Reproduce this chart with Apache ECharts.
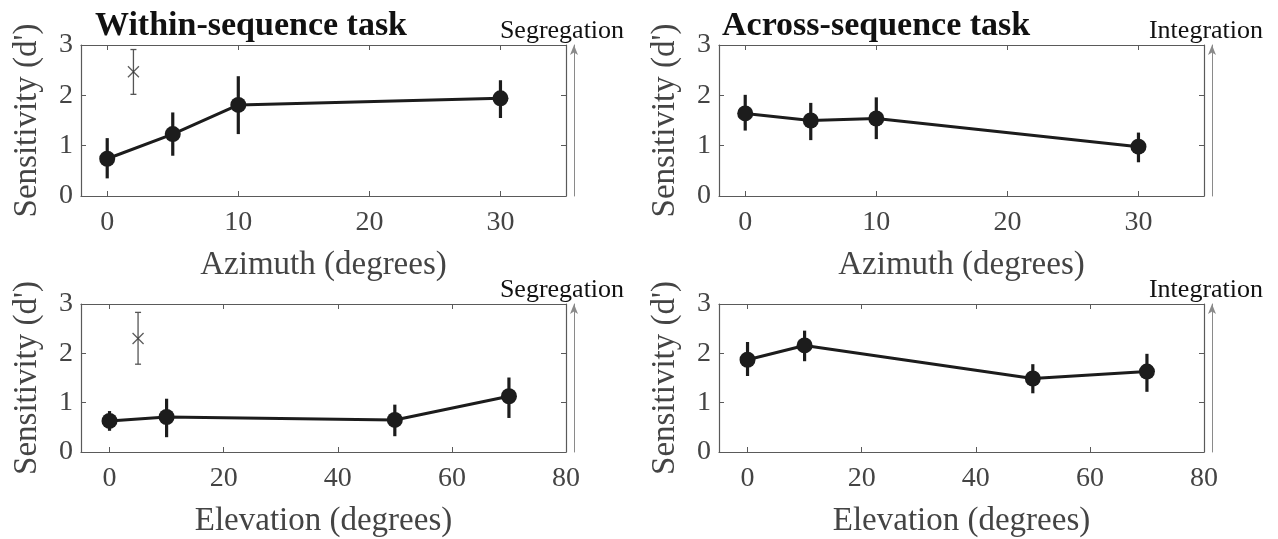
<!DOCTYPE html>
<html>
<head>
<meta charset="utf-8">
<script src="https://cdn.jsdelivr.net/npm/echarts@6/dist/echarts.min.js"></script>
<style>
  html, body { margin: 0; padding: 0; background: #fff; }
  #main { width: 1278px; height: 539px; }
</style>
</head>
<body>
<div id="main"></div>
<script>
// --- data ---
var azimuthX = [0, 5, 10, 30];
var elevationX = [0, 10, 50, 70];

// within-sequence, azimuth
var withinAzMean = [0.74, 1.23, 1.81, 1.94];
var withinAzLo   = [0.35, 0.80, 1.23, 1.55];
var withinAzHi   = [1.15, 1.66, 2.38, 2.30];
// reference point (x) with error bar: x, mean, lo, hi
var withinAzRef  = [2, 2.47, 2.02, 2.91];

// across-sequence, azimuth
var acrossAzMean = [1.64, 1.50, 1.54, 0.98];
var acrossAzLo   = [1.30, 1.11, 1.13, 0.67];
var acrossAzHi   = [2.01, 1.85, 1.96, 1.26];

// within-sequence, elevation
var withinElMean = [0.63, 0.71, 0.65, 1.13];
var withinElLo   = [0.43, 0.30, 0.32, 0.69];
var withinElHi   = [0.83, 1.08, 0.96, 1.51];
var withinElRef  = [5, 2.30, 1.78, 2.83];

// across-sequence, elevation
var acrossElMean = [1.87, 2.16, 1.49, 1.63];
var acrossElLo   = [1.54, 1.84, 1.19, 1.22];
var acrossElHi   = [2.23, 2.46, 1.78, 1.99];

var azTicks = [0, 10, 20, 30];
var elTicks = [0, 20, 40, 60, 80];

var FONT = 'Liberation Serif';
var AXIS_COLOR = '#5a5a5a';
var LABEL_COLOR = '#444';
var INK = '#1c1c1c';

var chart = echarts.init(document.getElementById('main'));

// grid boxes: [left, top]
var gridPos = [[81, 45], [719, 45], [81, 304], [719, 304]];
var grids = gridPos.map(function (p) {
  return { left: p[0], top: p[1], width: 485, height: 151, containLabel: false };
});

function pairUp(xs, ys) {
  return xs.map(function (x, i) { return [x, ys[i]]; });
}
function errData(xs, lo, hi) {
  return xs.map(function (x, i) { return [x, lo[i], hi[i]]; });
}

// error bar drawn through the axes' own scales
function errRender(width, cap, color) {
  return function (params, api) {
    var x = api.value(0);
    var p1 = api.coord([x, api.value(1)]);
    var p2 = api.coord([x, api.value(2)]);
    var children = [{
      type: 'line',
      shape: { x1: p1[0], y1: p1[1], x2: p2[0], y2: p2[1] },
      style: { stroke: color, lineWidth: width }
    }];
    if (cap > 0) {
      children.push({
        type: 'line',
        shape: { x1: p1[0] - cap, y1: p1[1], x2: p1[0] + cap, y2: p1[1] },
        style: { stroke: color, lineWidth: width }
      });
      children.push({
        type: 'line',
        shape: { x1: p2[0] - cap, y1: p2[1], x2: p2[0] + cap, y2: p2[1] },
        style: { stroke: color, lineWidth: width }
      });
    }
    return { type: 'group', children: children };
  };
}

var xAxes = [];
var yAxes = [];
var panels = [
  { xmin: -2, xmax: 35, ticks: azTicks, xname: 'Azimuth (degrees)', arrow: 'Segregation', shift: 24 },
  { xmin: -2, xmax: 35, ticks: azTicks, xname: 'Azimuth (degrees)', arrow: 'Integration', shift: 12 },
  { xmin: -5, xmax: 80, ticks: elTicks, xname: 'Elevation (degrees)', arrow: 'Segregation', shift: 24 },
  { xmin: -5, xmax: 80, ticks: elTicks, xname: 'Elevation (degrees)', arrow: 'Integration', shift: 12 }
];

panels.forEach(function (p, i) {
  // bottom x axis with labels
  xAxes.push({
    type: 'value', gridIndex: i, position: 'bottom', min: p.xmin, max: p.xmax,
    name: p.xname, nameLocation: 'middle', nameGap: 53,
    nameTextStyle: { fontFamily: FONT, fontSize: 33, color: LABEL_COLOR },
    axisLine: { show: true, onZero: false, lineStyle: { color: AXIS_COLOR, width: 1.2 } },
    axisTick: { show: true, inside: true, length: 5, customValues: p.ticks, lineStyle: { color: AXIS_COLOR } },
    axisLabel: { show: true, customValues: p.ticks, margin: 13, fontFamily: FONT, fontSize: 28, color: LABEL_COLOR },
    splitLine: { show: false }
  });
  // top x axis, box edge only
  xAxes.push({
    type: 'value', gridIndex: i, position: 'top', min: p.xmin, max: p.xmax,
    axisLine: { show: true, onZero: false, lineStyle: { color: AXIS_COLOR, width: 1.2 } },
    axisTick: { show: true, inside: true, length: 5, customValues: p.ticks, lineStyle: { color: AXIS_COLOR } },
    axisLabel: { show: false },
    splitLine: { show: false }
  });
  // left y axis with labels
  yAxes.push({
    type: 'value', gridIndex: i, position: 'left', min: 0, max: 3, interval: 1,
    name: "Sensitivity (d')", nameLocation: 'middle', nameGap: 37,
    nameTextStyle: { fontFamily: FONT, fontSize: 33, color: LABEL_COLOR },
    axisLine: { show: true, onZero: false, lineStyle: { color: AXIS_COLOR, width: 1.2 } },
    axisTick: { show: true, inside: true, length: 5, lineStyle: { color: AXIS_COLOR } },
    axisLabel: { show: true, margin: 8, fontFamily: FONT, fontSize: 28, color: LABEL_COLOR },
    splitLine: { show: false }
  });
  // right y axis, box edge only
  yAxes.push({
    type: 'value', gridIndex: i, position: 'right', min: 0, max: 3, interval: 1,
    axisLine: { show: true, onZero: false, lineStyle: { color: AXIS_COLOR, width: 1.2 } },
    axisTick: { show: true, inside: true, length: 5, lineStyle: { color: AXIS_COLOR } },
    axisLabel: { show: false },
    splitLine: { show: false }
  });
  // arrow beside the box
  yAxes.push({
    type: 'value', gridIndex: i, position: 'right', offset: 8, min: 0, max: 3,
    name: p.arrow, nameLocation: 'end', nameGap: 1,
    nameTextStyle: { fontFamily: FONT, fontSize: 26, color: '#111', padding: [0, p.shift, 0, 0] },
    axisLine: {
      show: true, onZero: false, symbol: ['none', 'arrow'], symbolSize: [6, 10],
      lineStyle: { color: '#8a8a8a', width: 1 }
    },
    axisTick: { show: false },
    axisLabel: { show: false },
    splitLine: { show: false }
  });
});

function lineSeries(i, xs, ys) {
  return {
    type: 'line', xAxisIndex: 2 * i, yAxisIndex: 3 * i,
    data: pairUp(xs, ys), symbol: 'circle', symbolSize: 16,
    lineStyle: { color: INK, width: 3 }, itemStyle: { color: INK },
    z: 3, silent: true, animation: false
  };
}
function errSeries(i, xs, lo, hi) {
  return {
    type: 'custom', xAxisIndex: 2 * i, yAxisIndex: 3 * i,
    data: errData(xs, lo, hi), encode: { x: 0, y: [1, 2] },
    renderItem: errRender(3.2, 0, INK), z: 2, silent: true, animation: false
  };
}
function refSeries(i, ref) {
  return [{
    type: 'custom', xAxisIndex: 2 * i, yAxisIndex: 3 * i,
    data: [[ref[0], ref[2], ref[3]]], encode: { x: 0, y: [1, 2] },
    renderItem: errRender(1.3, 3, '#555'), silent: true, animation: false
  }, {
    type: 'scatter', xAxisIndex: 2 * i, yAxisIndex: 3 * i,
    data: [[ref[0], ref[1]]],
    symbol: 'path://M0,0L10,10M10,0L0,10', symbolSize: 11,
    itemStyle: { color: 'none', borderColor: '#333', borderWidth: 1.3 },
    silent: true, animation: false
  }];
}

var series = [
  errSeries(0, azimuthX, withinAzLo, withinAzHi),
  lineSeries(0, azimuthX, withinAzMean),
  errSeries(1, azimuthX, acrossAzLo, acrossAzHi),
  lineSeries(1, azimuthX, acrossAzMean),
  errSeries(2, elevationX, withinElLo, withinElHi),
  lineSeries(2, elevationX, withinElMean),
  errSeries(3, elevationX, acrossElLo, acrossElHi),
  lineSeries(3, elevationX, acrossElMean)
].concat(refSeries(0, withinAzRef)).concat(refSeries(2, withinElRef));

var option = {
  backgroundColor: '#fff',
  animation: false,
  title: [
    { text: 'Within-sequence task', left: 95, top: 9, padding: 0,
      textStyle: { fontFamily: FONT, fontSize: 34, fontWeight: 'bold', color: '#111' } },
    { text: 'Across-sequence task', left: 722, top: 9, padding: 0,
      textStyle: { fontFamily: FONT, fontSize: 34, fontWeight: 'bold', color: '#111' } }
  ],
  grid: grids,
  xAxis: xAxes,
  yAxis: yAxes,
  series: series
};
chart.setOption(option);
</script>
</body>
</html>
